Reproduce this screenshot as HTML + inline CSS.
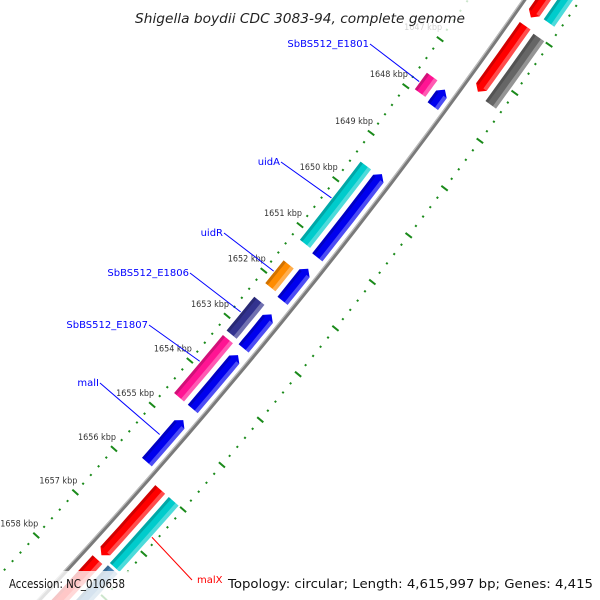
<!DOCTYPE html>
<html><head><meta charset="utf-8"><style>
html,body{margin:0;padding:0;background:#fff;width:600px;height:600px;overflow:hidden}
svg{display:block;font-family:"DejaVu Sans","Liberation Sans",sans-serif}
</style></head><body>
<svg id="map" width="600" height="600" viewBox="0 0 600 600" xmlns="http://www.w3.org/2000/svg">
<rect width="600" height="600" fill="#fff"/>
<g id="ticks"></g>
<g id="feats"></g>
<g id="labels"></g>
<rect x="130" y="0" width="345" height="32" fill="#fff" opacity="0.78"/>
<text x="135" y="23" font-size="13" font-style="italic" fill="#222" textLength="330" lengthAdjust="spacingAndGlyphs">Shigella boydii CDC 3083-94, complete genome</text>
<rect x="0" y="571" width="140" height="29" fill="#fff" opacity="0.78"/>
<text x="9" y="588" font-size="12" fill="#111" textLength="116" lengthAdjust="spacingAndGlyphs">Accession: NC_010658</text>
<text x="228" y="588" font-size="12" fill="#111" textLength="365" lengthAdjust="spacingAndGlyphs">Topology: circular; Length: 4,615,997 bp; Genes: 4,415</text>
</svg>
<script>
const featNames = ["f1","f2","f3","f4","f5","f6","f7","f8","f9","f10","f11","f12","f13","f14","f15","f16","f17","f18","f19"];
const featStart = [1647.65,1649.45,1651.5,1652.5,1653.4,1654.85,1647.6,1649.5,1651.65,1652.45,1653.3,1645.2,1645.97,1646.0,1644.0,1656.0,1657.6,1656.0,1657.55];
const featEnd   = [1648.0,1651.25,1652.2,1653.25,1654.6,1655.8,1647.95,1651.2,1652.15,1653.2,1654.6,1645.8,1647.35,1647.4,1645.7,1657.5,1659.5,1657.5,1659.5];
const featTrack = [-1,-1,-1,-1,-1,-1,-2,-2,-2,-2,-2,1,1,2,2,1,1,2,2];
const featDir   = [-1,-1,-1,-1,-1,-1,0,0,0,0,0,1,1,0,0,1,1,0,0];
const featColor = ["#0000ee","#0000ee","#0000ee","#0000ee","#0000ee","#0000ee","#ff1493","#00cccc","#ff8c00","#33338f","#ff1493","#ff0000","#ff0000","#666666","#00cccc","#ff0000","#ff0000","#00cccc","#4682b4"];
const majorKbp = [1640,1641,1642,1643,1644,1645,1646,1647,1648,1649,1650,1651,1652,1653,1654,1655,1656,1657,1658,1659,1660];
const tickLabels = ["1647 kbp","1648 kbp","1649 kbp","1650 kbp","1651 kbp","1652 kbp","1653 kbp","1654 kbp","1655 kbp","1656 kbp","1657 kbp","1658 kbp"];
const tickLabelKbp = [1647,1648,1649,1650,1651,1652,1653,1654,1655,1656,1657,1658];
const labelText = ["SbBS512_E1801","uidA","uidR","SbBS512_E1806","SbBS512_E1807","malI","malX"];
const labelKbp  = [1647.8,1650.3,1651.9,1652.8,1653.9,1655.3,1656.7];
const labelTrackR = [-35,-35,-35,-35,-35,-18,38];

const NS="http://www.w3.org/2000/svg";
const CX=-3960, CY=-3129, R=5468;
function ang(k){return (36.37+(k-1648)*0.615)*Math.PI/180;}
function P(k,r){const a=ang(k);return [CX+r*Math.cos(a),CY+r*Math.sin(a)];}
function mk(tag,attrs,parent){const e=document.createElementNS(NS,tag);for(const k in attrs)e.setAttribute(k,attrs[k]);parent.appendChild(e);return e;}
const T=document.getElementById('ticks'),F=document.getElementById('feats'),L=document.getElementById('labels');

let bb=[];for(let k=1638;k<=1662;k+=0.5)bb.push(P(k,R).map(v=>v.toFixed(1)).join(','));
let bl=mk('polyline',{points:bb.join(' '),fill:'none',stroke:'#7a7a7a','stroke-width':4},T);


let bl2=mk('polyline',{points:bb.join(' '),fill:'none',stroke:'#bdbdbd','stroke-width':1.2,transform:'translate(-1,-1)'},T);



for(const side of [-1,1]){
  const rc=R+side*46;
  for(let i=0;i<majorKbp.length-1;i++){
    const m=majorKbp[i];
    for(let j=0;j<5;j++){
      const k=m+j*0.2;
      const len=j==0?4:1;
      const a=P(k,rc-len),b=P(k,rc+len);
      const t=mk('line',{x1:a[0],y1:a[1],x2:b[0],y2:b[1],stroke:'#1a8a1a','stroke-width':2},T);
      
      
    }
  }
}
for(let i=0;i<tickLabels.length;i++){
  const p=P(tickLabelKbp[i],R-46);
  const t=mk('text',{x:p[0]+2,y:p[1]-9,'text-anchor':'end','font-size':9,fill:'#333',textLength:38,lengthAdjust:'spacingAndGlyphs'},T);
  t.textContent=tickLabels[i];
  
  
}

const trackR={'-1':[R-19,R-6],'-2':[R-37,R-24],'1':[R+9,R+22],'2':[R+27,R+40]};
function arcPts(k1,k2,r){const pts=[];const n=6;for(let i=0;i<=n;i++)pts.push(P(k1+(k2-k1)*i/n,r));return pts;}
for(let i=0;i<featNames.length;i++){
  const [r1,r2]=trackR[String(featTrack[i])];
  let s=featStart[i],e=featEnd[i],h=0.1;
  const rm=(r1+r2)/2;
  let pts;
  if(featDir[i]===-1){pts=[P(s,rm),...arcPts(s+h,e,r1),...arcPts(e,s+h,r2)];}
  else if(featDir[i]===1){pts=[...arcPts(s,e-h,r1),P(e,rm),...arcPts(e-h,s,r2)];}
  else{pts=[...arcPts(s,e,r1),...arcPts(e,s,r2)];}
  const g=mk('polygon',{points:pts.map(p=>p.map(v=>v.toFixed(1)).join(',')).join(' '),fill:featColor[i]},F);
  
  
  const s1=featDir[i]===-1?s+h:s, e1=featDir[i]===1?e-h:e;
  const lt=[...arcPts(s1,e1,r2-4),...arcPts(e1,s1,r2)];
  const sh=mk('polygon',{points:lt.map(p=>p.map(v=>v.toFixed(1)).join(',')).join(' '),fill:'#fff',opacity:0.3},F);
  
  
  const dk=[...arcPts(s1,e1,r1),...arcPts(e1,s1,r1+3)];
  const sd=mk('polygon',{points:dk.map(p=>p.map(v=>v.toFixed(1)).join(',')).join(' '),fill:'#000',opacity:0.18},F);
  
  
}

const labelPos=[[370,44,293,44],[281,162,279,161],[224,233,222,233],[190,273,189,273],[149,325,147,324],[100,383,99,383],[192,580,197,587]];
for(let i=0;i<labelText.length;i++){
  const red=labelText[i]==='malX';
  const col=red?'#ff0000':'#0000ff';
  const p=P(labelKbp[i],R+labelTrackR[i]+(labelTrackR[i]<0?-3:3));
  const lp=labelPos[i];
  const ln=mk('line',{x1:lp[0],y1:lp[1],x2:p[0],y2:p[1],stroke:col,'stroke-width':1},L);
  
  
  const t=mk('text',{x:red?lp[2]:lp[0]-1,y:lp[1]+3,'text-anchor':red?'start':'end','font-size':10,fill:col},L);
  t.textContent=labelText[i];
  
  
}
</script>
</body></html>
